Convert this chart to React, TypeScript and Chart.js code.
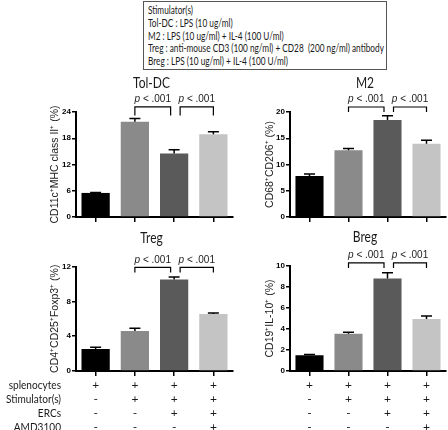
import React, { useEffect, useRef } from "react";
import { Chart, registerables } from "chart.js";

Chart.register(...registerables);

// ---------- data ----------
const groups = ["splenocytes", "+ Stimulator(s)", "+ ERCs", "+ AMD3100"];
const barColors = ["#000000", "#8a8a8a", "#5a5a5a", "#c4c4c4"];

const tolDcValues = [5.5, 21.8, 14.5, 18.9];
const tolDcErrors = [0.08, 0.7, 0.9, 0.6];
const tolDcTicks = [0, 6, 12, 18, 24];

const m2Values = [7.8, 12.7, 18.5, 13.95];
const m2Errors = [0.4, 0.35, 0.8, 0.65];
const m2Ticks = [0, 5, 10, 15, 20];

const tregValues = [2.53, 4.6, 10.5, 6.55];
const tregErrors = [0.2, 0.3, 0.3, 0.12];
const tregTicks = [0, 4, 8, 12];

const bregValues = [1.5, 3.55, 8.8, 4.95];
const bregErrors = [0.08, 0.15, 0.55, 0.28];
const bregTicks = [0, 2, 4, 6, 8, 10];

const pText = "< .001";

const legendLines = [
  "Stimulator(s)",
  "Tol-DC : LPS (10 ug/ml)",
  "M2 : LPS (10 ug/ml) + IL-4 (100 U/ml)",
  "Treg : anti-mouse CD3 (100 ng/ml) + CD28  (200 ng/ml) antibody",
  "Breg : LPS (10 ug/ml) + IL-4 (100 U/ml)",
];

const rowLabels = ["splenocytes", "Stimulator(s)", "ERCs", "AMD3100"];
const rowSigns = [
  ["+", "+", "+", "+"],
  ["-", "+", "+", "+"],
  ["-", "-", "+", "+"],
  ["-", "-", "-", "+"],
];

// ---------- panels ----------
type Panel = {
  key: string;
  title: string;
  yTitle: string;
  values: number[];
  errors: number[];
  ticks: number[];
  box: { left: number; top: number; width: number; height: number };
  yAxisWidth: number;
  padTop: number;
  padRight: number;
  padBottom: number;
  yTitlePad: number;
  bracketTop: number;
  bracketLeg: number;
  rowLabels: boolean;
  table: boolean;
};

const panels: Panel[] = [
  {
    key: "toldc",
    title: "Tol-DC",
    yTitle: "CD11c\u207AMHC class II\u207A (%)",
    values: tolDcValues,
    errors: tolDcErrors,
    ticks: tolDcTicks,
    box: { left: 0, top: 75, width: 240, height: 150 },
    yAxisWidth: 76,
    padTop: 37,
    padRight: 7,
    padBottom: 2,
    yTitlePad: 48.5,
    bracketTop: 25.15,
    bracketLeg: 23.2,
    rowLabels: false,
    table: false,
  },
  {
    key: "m2",
    title: "M2",
    yTitle: "CD68\u207ACD206\u207A (%)",
    values: m2Values,
    errors: m2Errors,
    ticks: m2Ticks,
    box: { left: 224, top: 75, width: 224, height: 150 },
    yAxisWidth: 66,
    padTop: 37,
    padRight: 2,
    padBottom: 2,
    yTitlePad: 39.5,
    bracketTop: 20.95,
    bracketLeg: 20.0,
    rowLabels: false,
    table: false,
  },
  {
    key: "treg",
    title: "Treg",
    yTitle: "CD4\u207ACD25\u207AFoxp3\u207A (%)",
    values: tregValues,
    errors: tregErrors,
    ticks: tregTicks,
    box: { left: 0, top: 225, width: 240, height: 205 },
    yAxisWidth: 76,
    padTop: 41.5,
    padRight: 7,
    padBottom: 53,
    yTitlePad: 48.5,
    bracketTop: 11.9,
    bracketLeg: 11.3,
    rowLabels: true,
    table: true,
  },
  {
    key: "breg",
    title: "Breg",
    yTitle: "CD19\u207AIL-10\u207A (%)",
    values: bregValues,
    errors: bregErrors,
    ticks: bregTicks,
    box: { left: 224, top: 225, width: 224, height: 205 },
    yAxisWidth: 66,
    padTop: 41,
    padRight: 2,
    padBottom: 53,
    yTitlePad: 39.5,
    bracketTop: 10.3,
    bracketLeg: 9.8,
    rowLabels: false,
    table: true,
  },
];

const TEXT_FONT = "Lato, 'Open Sans', sans-serif";
const AXIS_FONT = "'Liberation Sans', Arial, sans-serif";

function scaledText(
  ctx: CanvasRenderingContext2D,
  text: string,
  x: number,
  y: number,
  align: CanvasTextAlign,
  sx: number
) {
  ctx.save();
  ctx.translate(x, y);
  ctx.scale(sx, 1);
  ctx.textAlign = align;
  ctx.fillText(text, 0, 0);
  ctx.restore();
}

function makePlugin(p: Panel) {
  return {
    id: "annot_" + p.key,
    afterDatasetsDraw(chart: any) {
      const ctx = chart.ctx as CanvasRenderingContext2D;
      const meta = chart.getDatasetMeta(0);
      const y = chart.scales.y;
      ctx.save();
      ctx.strokeStyle = "#000";
      ctx.lineWidth = 1.5;
      p.values.forEach((v, i) => {
        const x = meta.data[i].x;
        const y0 = y.getPixelForValue(v);
        const y1 = y.getPixelForValue(v + p.errors[i]);
        ctx.beginPath();
        ctx.moveTo(x, y0);
        ctx.lineTo(x, y1);
        ctx.moveTo(x - 5.5, y1);
        ctx.lineTo(x + 5.5, y1);
        ctx.stroke();
      });
      ctx.restore();
    },
    afterDraw(chart: any) {
      const ctx = chart.ctx as CanvasRenderingContext2D;
      const area = chart.chartArea;
      const xs = chart.scales.x;
      const y = chart.scales.y;
      ctx.save();
      // title
      ctx.fillStyle = "#1a1a1a";
      ctx.font = `15px ${TEXT_FONT}`;
      ctx.textBaseline = "middle";
      scaledText(ctx, p.title, (area.left + area.right) / 2 - 3, area.top - 28.5, "center", 0.8);

      // brackets
      const c = [0, 1, 2, 3].map((i) => xs.getPixelForValue(i));
      const yt = y.getPixelForValue(p.bracketTop);
      const yl = y.getPixelForValue(p.bracketLeg);
      const brackets = [
        [c[1], c[2] - 3.5],
        [c[2] + 6, c[3]],
      ];
      ctx.strokeStyle = "#000";
      ctx.lineWidth = 1.2;
      brackets.forEach(([a, b]) => {
        ctx.beginPath();
        ctx.moveTo(a, yl);
        ctx.lineTo(a, yt);
        ctx.lineTo(b, yt);
        ctx.lineTo(b, yl);
        ctx.stroke();
        const italic = `italic 10px ${AXIS_FONT}`;
        const normal = `10px ${AXIS_FONT}`;
        ctx.font = italic;
        const w1 = ctx.measureText("p ").width;
        ctx.font = normal;
        const w2 = ctx.measureText(pText).width;
        const start = (a + b) / 2 - (w1 + w2) / 2;
        ctx.textAlign = "left";
        ctx.textBaseline = "middle";
        ctx.fillStyle = "#222";
        ctx.font = italic;
        ctx.fillText("p ", start, yt - 7.5);
        ctx.font = normal;
        ctx.fillText(pText, start + w1, yt - 7.5);
      });

      // condition table
      if (p.table) {
        ctx.font = `12px ${TEXT_FONT}`;
        ctx.fillStyle = "#1a1a1a";
        ctx.textBaseline = "middle";
        rowSigns.forEach((row, r) => {
          const ry = area.bottom + 14 + r * 14;
          if (p.rowLabels) {
            scaledText(ctx, rowLabels[r], area.left - 15, ry, "right", 0.84);
          }
          ctx.textAlign = "center";
          row.forEach((s, i) => {
            ctx.fillText(s, c[i], ry);
          });
        });
      }
      ctx.restore();
    },
  };
}

function PanelChart({ p }: { p: Panel }) {
  const ref = useRef<HTMLCanvasElement | null>(null);
  useEffect(() => {
    if (!ref.current) return;
    const chart = new Chart(ref.current, {
      type: "bar",
      data: {
        labels: groups,
        datasets: [
          {
            data: p.values,
            backgroundColor: barColors,
            borderWidth: 0,
            barPercentage: 0.72,
            categoryPercentage: 1,
          },
        ],
      },
      options: {
        responsive: false,
        animation: false,
        devicePixelRatio: 1,
        layout: {
          padding: { top: p.padTop, right: p.padRight, bottom: p.padBottom, left: 0 },
        },
        plugins: {
          legend: { display: false },
          tooltip: { enabled: false },
          title: { display: false },
        },
        scales: {
          x: {
            type: "category",
            offset: true,
            ticks: { display: false },
            grid: {
              offset: false,
              drawOnChartArea: false,
              drawTicks: true,
              tickLength: 5,
              color: "#000",
              lineWidth: 1.5,
            },
            border: { display: true, color: "#000", width: 2 },
            afterFit: (s: any) => {
              s.height = 6;
            },
          },
          y: {
            type: "linear",
            min: 0,
            max: p.ticks[p.ticks.length - 1],
            afterBuildTicks: (s: any) => {
              s.ticks = p.ticks.map((v) => ({ value: v }));
            },
            ticks: {
              padding: 1,
              color: "#000",
              font: { family: AXIS_FONT, size: 8, weight: "bold" },
            },
            grid: {
              drawOnChartArea: false,
              drawTicks: true,
              tickLength: 4,
              color: "#000",
              lineWidth: 1.5,
            },
            border: { display: true, color: "#000", width: 2 },
            title: {
              display: true,
              text: p.yTitle,
              color: "#222",
              font: { family: AXIS_FONT, size: 10.5 },
              padding: { top: p.yTitlePad, bottom: 0 },
            },
            afterFit: (s: any) => {
              s.width = p.yAxisWidth;
            },
          },
        },
      },
      plugins: [makePlugin(p)],
    } as any);
    return () => chart.destroy();
  }, [p]);
  return (
    <canvas
      ref={ref}
      width={p.box.width}
      height={p.box.height}
      style={{
        position: "absolute",
        left: p.box.left,
        top: p.box.top,
        width: p.box.width,
        height: p.box.height,
      }}
    />
  );
}

export default function App() {
  return (
    <div
      style={{
        position: "absolute",
        left: 0,
        top: 0,
        width: 448,
        height: 430,
        background: "#fff",
        overflow: "hidden",
      }}
    >
      <div
        style={{
          position: "absolute",
          left: 143,
          top: 1,
          width: 244,
          height: 69,
          border: "1px solid #555",
          boxSizing: "border-box",
        }}
      >
        {legendLines.map((line, i) => (
          <div
            key={i}
            style={{
              position: "absolute",
              left: 4,
              top: 1 + i * 12.8,
              lineHeight: "13px",
              fontSize: 11,
              fontFamily: TEXT_FONT,
              color: "#1a1a1a",
              whiteSpace: "pre",
              transform: "scaleX(0.75)",
              transformOrigin: "0 0",
            }}
          >
            {line}
          </div>
        ))}
      </div>
      {panels.map((p) => (
        <PanelChart key={p.key} p={p} />
      ))}
    </div>
  );
}
